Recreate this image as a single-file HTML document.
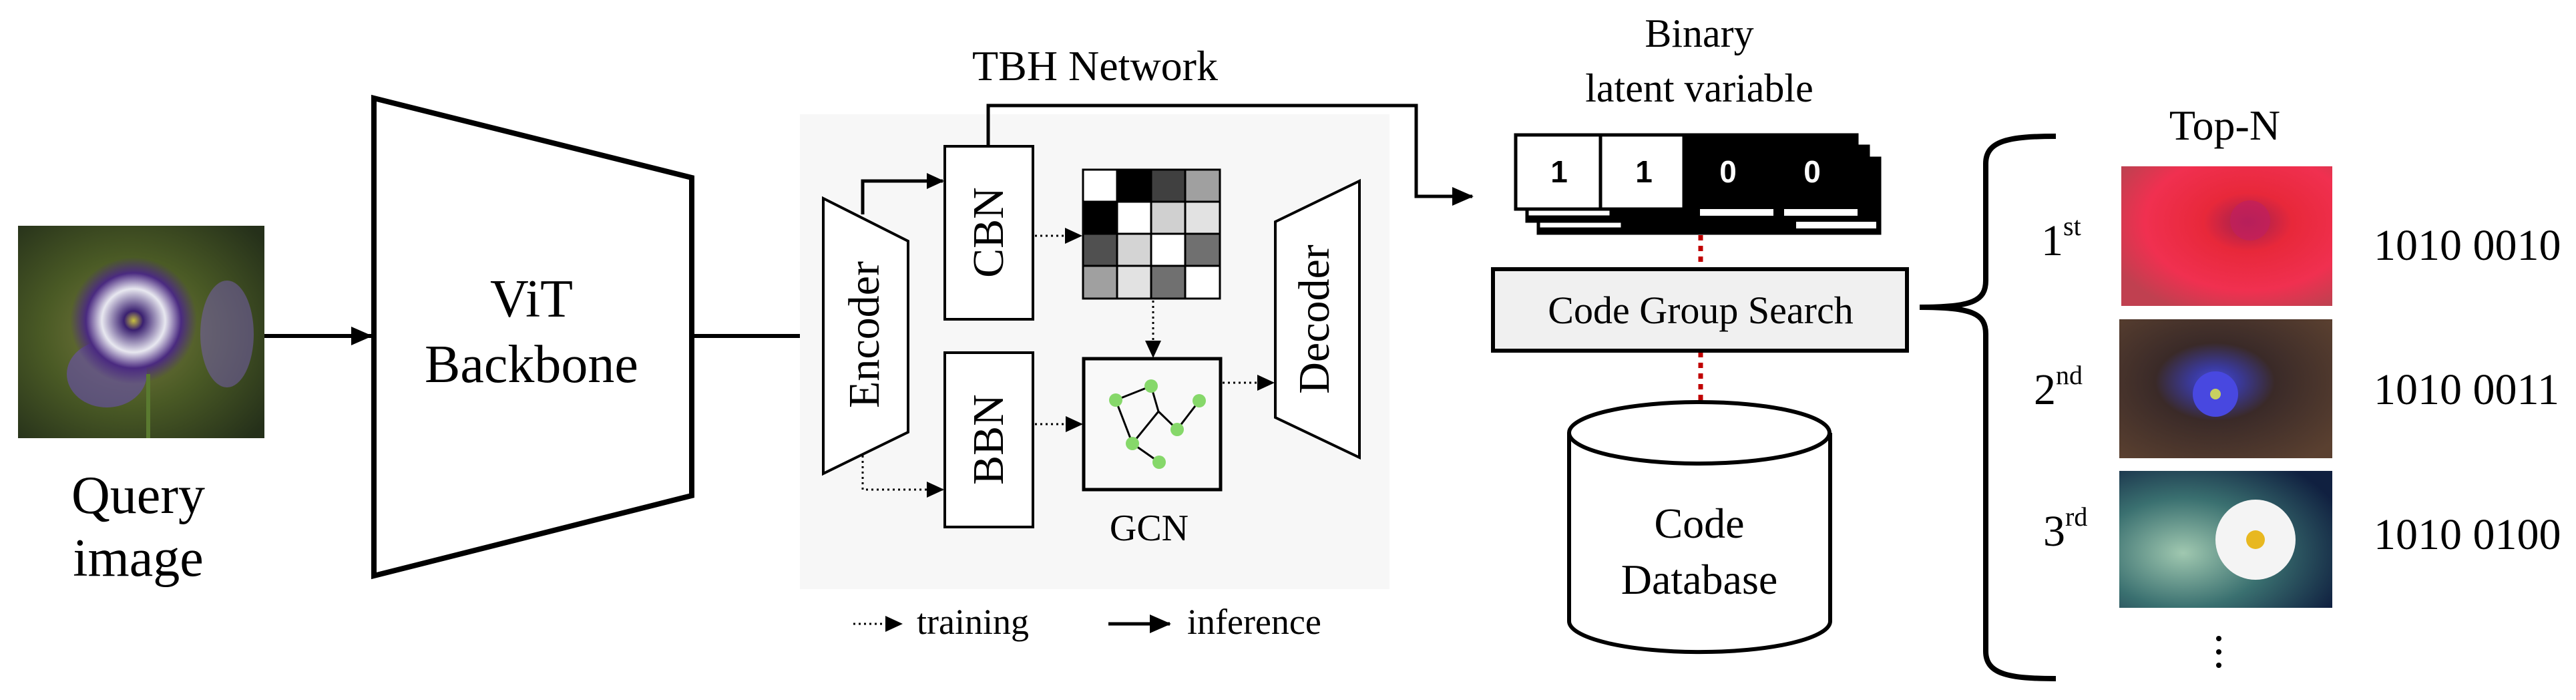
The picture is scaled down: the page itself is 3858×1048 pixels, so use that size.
<!DOCTYPE html>
<html><head><meta charset="utf-8"><style>html,body{margin:0;padding:0;background:#fff}svg{display:block}svg text{font-family:"Liberation Serif","Times New Roman",serif}svg text.sans{font-family:"Liberation Sans",Arial,sans-serif}</style></head>
<body>
<svg width="3858" height="1048" viewBox="0 0 3858 1048" xmlns="http://www.w3.org/2000/svg">
<defs>
<marker id="ah" markerWidth="32" markerHeight="28" refX="30" refY="14" orient="auto" markerUnits="userSpaceOnUse"><path d="M0,0 L32,14 L0,28 z" fill="#000"/></marker>
<marker id="as" markerWidth="26" markerHeight="24" refX="24" refY="12" orient="auto" markerUnits="userSpaceOnUse"><path d="M0,0 L26,12 L0,24 z" fill="#000"/></marker>
<radialGradient id="q1" cx="0.45" cy="0.5" r="0.7"><stop offset="0" stop-color="#7a7a40"/><stop offset="0.5" stop-color="#4a5a25"/><stop offset="1" stop-color="#25301a"/></radialGradient>
<radialGradient id="fl" cx="0.5" cy="0.5" r="0.5"><stop offset="0" stop-color="#c8c040"/><stop offset="0.15" stop-color="#3a2070"/><stop offset="0.5" stop-color="#e8e8f0"/><stop offset="0.75" stop-color="#4a2a80"/><stop offset="1" stop-color="#4a2a80" stop-opacity="0"/></radialGradient>
<radialGradient id="r1" cx="0.6" cy="0.4" r="0.7"><stop offset="0" stop-color="#a02050"/><stop offset="0.3" stop-color="#e8283a"/><stop offset="0.7" stop-color="#f03050"/><stop offset="1" stop-color="#c04050"/></radialGradient>
<radialGradient id="r2" cx="0.45" cy="0.45" r="0.7"><stop offset="0" stop-color="#4a50d0"/><stop offset="0.15" stop-color="#3a3aa0"/><stop offset="0.4" stop-color="#3a2a28"/><stop offset="1" stop-color="#5a4030"/></radialGradient>
<radialGradient id="r3" cx="0.3" cy="0.6" r="0.8"><stop offset="0" stop-color="#a0c8b0"/><stop offset="0.5" stop-color="#3a7070"/><stop offset="1" stop-color="#102040"/></radialGradient>
</defs>

<rect x="27" y="338" width="369" height="318" fill="url(#q1)"/>
<ellipse cx="160" cy="560" rx="60" ry="50" fill="#6a50b0" opacity="0.6"/>
<ellipse cx="340" cy="500" rx="40" ry="80" fill="#7a60b8" opacity="0.5"/>
<circle cx="200" cy="480" r="95" fill="url(#fl)"/>
<line x1="222" y1="560" x2="222" y2="656" stroke="#5a7a30" stroke-width="6"/>
<text x="207" y="768" font-size="80" text-anchor="middle">Query</text>
<text x="207" y="862" font-size="80" text-anchor="middle">image</text>

<line x1="396" y1="503" x2="556" y2="503" stroke="#000" stroke-width="6" marker-end="url(#ah)"/>
<polygon points="560,147 1036,266 1036,742 560,862" fill="#fff" stroke="#000" stroke-width="8"/>
<text x="796" y="474" font-size="80" text-anchor="middle">ViT</text>
<text x="796" y="572" font-size="80" text-anchor="middle">Backbone</text>
<line x1="1036" y1="503" x2="1232" y2="503" stroke="#000" stroke-width="6" marker-end="url(#ah)"/>

<rect x="1198" y="171" width="883" height="711" fill="#f7f7f7"/>
<text x="1640" y="120" font-size="64" text-anchor="middle">TBH Network</text>
<polygon points="1233,297 1360,361 1360,647 1233,709" fill="#fff" stroke="#000" stroke-width="4"/>
<text transform="translate(1316,501) rotate(-90)" font-size="66" text-anchor="middle">Encoder</text>
<rect x="1415" y="219" width="132" height="259" fill="#fff" stroke="#000" stroke-width="4"/>
<text transform="translate(1502,348) rotate(-90)" font-size="66" text-anchor="middle">CBN</text>
<rect x="1415" y="528" width="132" height="261" fill="#fff" stroke="#000" stroke-width="4"/>
<text transform="translate(1502,658) rotate(-90)" font-size="66" text-anchor="middle">BBN</text>
<polyline points="1292,321 1292,271 1412,271" fill="none" stroke="#000" stroke-width="5" marker-end="url(#as)"/>
<polyline points="1292,682 1292,733 1412,733" fill="none" stroke="#000" stroke-width="3" stroke-dasharray="3,5" marker-end="url(#as)"/>
<g stroke="#000" stroke-width="3">
<rect x="1622" y="254" width="51" height="48" fill="#fff"/><rect x="1673" y="254" width="51" height="48" fill="#000"/><rect x="1724" y="254" width="51" height="48" fill="#404040"/><rect x="1775" y="254" width="52" height="48" fill="#a0a0a0"/>
<rect x="1622" y="302" width="51" height="48" fill="#000"/><rect x="1673" y="302" width="51" height="48" fill="#fff"/><rect x="1724" y="302" width="51" height="48" fill="#d0d0d0"/><rect x="1775" y="302" width="52" height="48" fill="#e2e2e2"/>
<rect x="1622" y="350" width="51" height="48" fill="#505050"/><rect x="1673" y="350" width="51" height="48" fill="#d4d4d4"/><rect x="1724" y="350" width="51" height="48" fill="#fff"/><rect x="1775" y="350" width="52" height="48" fill="#707070"/>
<rect x="1622" y="398" width="51" height="49" fill="#a0a0a0"/><rect x="1673" y="398" width="51" height="49" fill="#e2e2e2"/><rect x="1724" y="398" width="51" height="49" fill="#707070"/><rect x="1775" y="398" width="52" height="49" fill="#fff"/>
</g>
<line x1="1550" y1="353" x2="1619" y2="353" stroke="#000" stroke-width="3" stroke-dasharray="3,5" marker-end="url(#as)"/>
<line x1="1727" y1="450" x2="1727" y2="534" stroke="#000" stroke-width="3" stroke-dasharray="3,5" marker-end="url(#as)"/>
<rect x="1623" y="537" width="205" height="196" fill="#f9f9f9" stroke="#000" stroke-width="5"/>
<g stroke="#000" stroke-width="3">
<line x1="1671" y1="599" x2="1724" y2="578"/><line x1="1671" y1="599" x2="1696" y2="664"/><line x1="1724" y1="578" x2="1735" y2="616"/><line x1="1735" y1="616" x2="1763" y2="643"/><line x1="1735" y1="616" x2="1696" y2="664"/><line x1="1763" y1="643" x2="1796" y2="600"/><line x1="1696" y1="664" x2="1736" y2="692"/>
</g>
<g fill="#86d86a"><circle cx="1671" cy="599" r="10"/><circle cx="1724" cy="578" r="10"/><circle cx="1796" cy="600" r="10"/><circle cx="1763" cy="643" r="10"/><circle cx="1696" cy="664" r="10"/><circle cx="1736" cy="692" r="10"/></g>
<text x="1721" y="809" font-size="56" text-anchor="middle">GCN</text>
<line x1="1550" y1="635" x2="1620" y2="635" stroke="#000" stroke-width="3" stroke-dasharray="3,5" marker-end="url(#as)"/>
<line x1="1831" y1="573" x2="1907" y2="573" stroke="#000" stroke-width="3" stroke-dasharray="3,5" marker-end="url(#as)"/>
<polygon points="1910,332 2036,271 2036,685 1910,625" fill="#fff" stroke="#000" stroke-width="4"/>
<text transform="translate(1990,478) rotate(-90)" font-size="66" text-anchor="middle">Decoder</text>
<polyline points="1480,219 1480,158 2121,158 2121,294 2205,294" fill="none" stroke="#000" stroke-width="5" marker-end="url(#ah)"/>
<line x1="1278" y1="934" x2="1350" y2="934" stroke="#000" stroke-width="3" stroke-dasharray="3,5" marker-end="url(#as)"/>
<text x="1373" y="949" font-size="54">training</text>
<line x1="1660" y1="934" x2="1752" y2="934" stroke="#000" stroke-width="5" marker-end="url(#ah)"/>
<text x="1778" y="949" font-size="54">inference</text>

<text x="2545" y="70" font-size="60" text-anchor="middle">Binary</text>
<text x="2545" y="152" font-size="60" text-anchor="middle">latent variable</text>
<g stroke="#000" stroke-width="5">
<rect x="2304" y="237" width="511" height="112" fill="#000"/><rect x="2304" y="237" width="126" height="106" fill="#fff"/>
<rect x="2287" y="219" width="511" height="112" fill="#000"/><rect x="2287" y="219" width="126" height="106" fill="#fff"/>
<rect x="2270" y="202" width="511" height="111" fill="#000"/>
<rect x="2270" y="202" width="127" height="111" fill="#fff"/><rect x="2397" y="202" width="125" height="111" fill="#fff"/>
</g>
<g fill="#fff"><rect x="2546" y="313" width="110" height="10"/><rect x="2672" y="313" width="110" height="10"/><rect x="2690" y="332" width="120" height="10"/></g>
<g font-weight="bold" font-size="46" text-anchor="middle">
<text class="sans" x="2335" y="273">1</text><text class="sans" x="2462" y="273">1</text><text class="sans" x="2588" y="273" fill="#fff">0</text><text class="sans" x="2714" y="273" fill="#fff">0</text></g>
<line x1="2547" y1="352" x2="2547" y2="401" stroke="#c00000" stroke-width="7" stroke-dasharray="8,8"/>
<line x1="2547" y1="527" x2="2547" y2="600" stroke="#c00000" stroke-width="7" stroke-dasharray="8,8"/>
<rect x="2236" y="403" width="620" height="122" fill="#f0f0f0" stroke="#000" stroke-width="6"/>
<text x="2547" y="484" font-size="58" text-anchor="middle">Code Group Search</text>
<path d="M2350,648 L2350,930 A195,46 0 0 0 2741,930 L2741,648" fill="#fff" stroke="#000" stroke-width="6"/>
<ellipse cx="2545" cy="648" rx="195" ry="46" fill="#fff" stroke="#000" stroke-width="6"/>
<text x="2545" y="805" font-size="64" text-anchor="middle">Code</text>
<text x="2545" y="889" font-size="64" text-anchor="middle">Database</text>

<path d="M3079,204 C3010,204 2974,210 2974,245 L2974,420 C2974,450 2955,460 2875,460 C2955,460 2974,470 2974,500 L2974,975 C2974,1010 3010,1016 3079,1016" fill="none" stroke="#000" stroke-width="8"/>

<text x="3332" y="209" font-size="64" text-anchor="middle">Top-N</text>
<rect x="3177" y="249" width="316" height="209" fill="url(#r1)"/>
<circle cx="3370" cy="330" r="30" fill="#c02060" opacity="0.7"/>
<rect x="3174" y="478" width="319" height="208" fill="url(#r2)"/>
<circle cx="3318" cy="590" r="34" fill="#4848e0"/><circle cx="3318" cy="590" r="8" fill="#c8d060"/>
<rect x="3174" y="705" width="319" height="205" fill="url(#r3)"/>
<circle cx="3378" cy="808" r="60" fill="#f4f4f4"/><circle cx="3378" cy="808" r="14" fill="#e8b820"/>
<g font-size="66">
<text x="3057" y="382">1<tspan font-size="40" dy="-30">st</tspan></text>
<text x="3046" y="605">2<tspan font-size="40" dy="-30">nd</tspan></text>
<text x="3060" y="817">3<tspan font-size="40" dy="-30">rd</tspan></text>
<text x="3555" y="389">1010 0010</text>
<text x="3555" y="605">1010 0011</text>
<text x="3555" y="822">1010 0100</text>
</g>
<g fill="#000"><circle cx="3323" cy="956" r="4"/><circle cx="3323" cy="976" r="4"/><circle cx="3323" cy="996" r="4"/></g>
</svg>
</body></html>
